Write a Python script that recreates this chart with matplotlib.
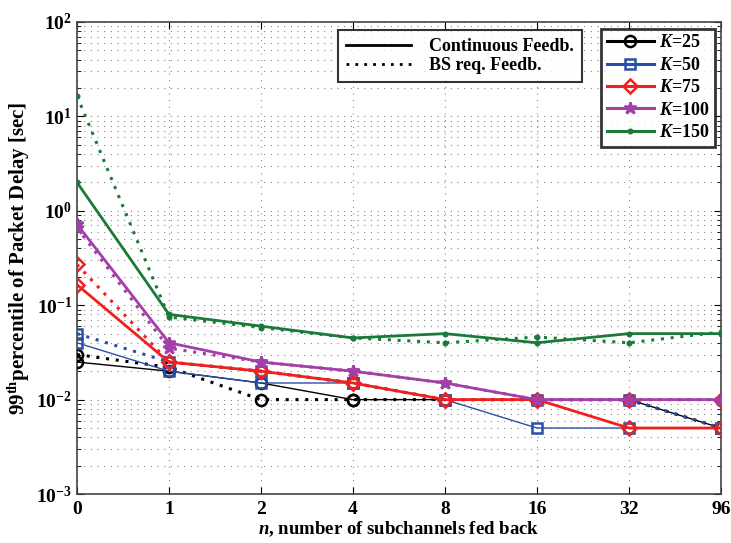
import matplotlib
matplotlib.use("Agg")
import matplotlib.pyplot as plt
from matplotlib.lines import Line2D
import numpy as np

plt.rcParams['font.family'] = ['Liberation Serif', 'DejaVu Serif']
plt.rcParams['font.weight'] = 'bold'
plt.rcParams['mathtext.fontset'] = 'custom'
plt.rcParams['mathtext.rm'] = 'Liberation Serif:bold'
plt.rcParams['mathtext.it'] = 'Liberation Serif:italic:bold'
plt.rcParams['mathtext.bf'] = 'Liberation Serif:bold'

n_labels = ['0', '1', '2', '4', '8', '16', '32', '96']

# 99th percentile delay [sec], continuous feedback
cont_k25 = [0.025, 0.020, 0.015, 0.010, 0.010, 0.010, 0.010, 0.005]
cont_k50 = [0.040, 0.020, 0.015, 0.015, 0.010, 0.005, 0.005, 0.005]
cont_k75 = [0.165, 0.025, 0.020, 0.015, 0.010, 0.010, 0.005, 0.005]
cont_k100 = [0.72, 0.040, 0.025, 0.020, 0.015, 0.010, 0.010, 0.010]
cont_k150 = [2.0, 0.080, 0.060, 0.045, 0.050, 0.040, 0.050, 0.050]

# 99th percentile delay [sec], BS requested feedback
req_k25 = [0.030, 0.022, 0.010, 0.010, 0.010, 0.010, 0.010, 0.005]
req_k50 = [0.050, 0.025, 0.020, 0.015, 0.010, 0.010, 0.010, 0.005]
req_k75 = [0.27, 0.025, 0.020, 0.015, 0.010, 0.010, 0.010, 0.010]
req_k100 = [0.66, 0.035, 0.025, 0.020, 0.015, 0.010, 0.010, 0.010]
req_k150 = [16.5, 0.075, 0.058, 0.045, 0.040, 0.046, 0.040, 0.052]

series = [
    ('25', cont_k25, req_k25, 'black', 'o', 1.0, 8, 'none'),
    ('50', cont_k50, req_k50, '#2a4fa8', 's', 1.0, 6.5, 'none'),
    ('75', cont_k75, req_k75, '#f02020', 'D', 2.0, 7, 'none'),
    ('100', cont_k100, req_k100, '#a23fa8', '*', 2.0, 9, None),
    ('150', cont_k150, req_k150, '#1a7a3a', '.', 2.0, 5, None),
]

fig = plt.figure(figsize=(7.31, 5.43), dpi=100)
ax = fig.add_axes([0.1053, 0.0902, 0.881, 0.8693])
x = np.arange(len(n_labels))

handles = []
for k, cont, req, col, mk, lw, ms, fc in series:
    mfc = fc if fc is not None else col
    ax.plot(x, cont, color=col, lw=lw, marker=mk, ms=ms, mfc=mfc,
            mec=col, mew=1.8, zorder=3)
    ax.plot(x, req, color=col, lw=2.2, ls=(0, (1, 2.2)), marker=mk, ms=ms,
            mfc=mfc, mec=col, mew=1.8, zorder=3)
    handles.append(Line2D([], [], color=col, lw=2.2, marker=mk, ms=ms,
                          mfc=mfc, mec=col, mew=1.8,
                          label=r'$K$=' + k))

ax.set_yscale('log')
ax.set_ylim(1e-3, 1e2)
ax.set_xlim(0, 7)
ax.set_xticks(x)
ax.set_xticklabels(n_labels)
ax.grid(True, which='major', ls=(0, (1, 5)), color='#888888', lw=0.8)
ax.grid(True, which='minor', axis='y', ls=(0, (1, 5)), color='#888888', lw=0.8)
ax.tick_params(which='both', direction='in', labelsize=14, top=True, right=True)
ax.tick_params(which='major', length=5)
ax.tick_params(which='minor', length=3)
ax.tick_params(axis='x', pad=5)
for sp in ax.spines.values():
    sp.set_color('#444444')
    sp.set_linewidth(1.2)

ax.set_xlabel(r'$n$, number of subchannels fed back', fontsize=13.5,
              fontweight='bold', labelpad=1)
ax.set_ylabel(r'$99^{\mathrm{th}}$percentile of Packet Delay [sec]', fontsize=15,
              fontweight='bold', labelpad=3)

style_handles = [
    Line2D([], [], color='black', lw=2, ls='-', label='Continuous Feedb.'),
    Line2D([], [], color='black', lw=2, ls=(0, (1, 2.2)), label='BS req. Feedb.'),
]
leg1 = ax.legend(handles=style_handles, loc='upper left',
                 bbox_to_anchor=(0.405, 0.983), borderaxespad=0, fontsize=13,
                 frameon=True, fancybox=False, edgecolor='black',
                 handlelength=3.6, borderpad=0.45, labelspacing=0.1,
                 handletextpad=1.0)
leg1.get_frame().set_linewidth(1.5)
ax.add_artist(leg1)
leg2 = ax.legend(handles=handles, loc='upper right',
                 bbox_to_anchor=(0.9907, 0.985), borderaxespad=0, fontsize=13,
                 frameon=True, fancybox=False, edgecolor='black',
                 handlelength=2.6, borderpad=0.3, labelspacing=0.3,
                 handletextpad=0.3)
leg2.get_frame().set_linewidth(2)

fig.savefig('out.png', dpi=100)
